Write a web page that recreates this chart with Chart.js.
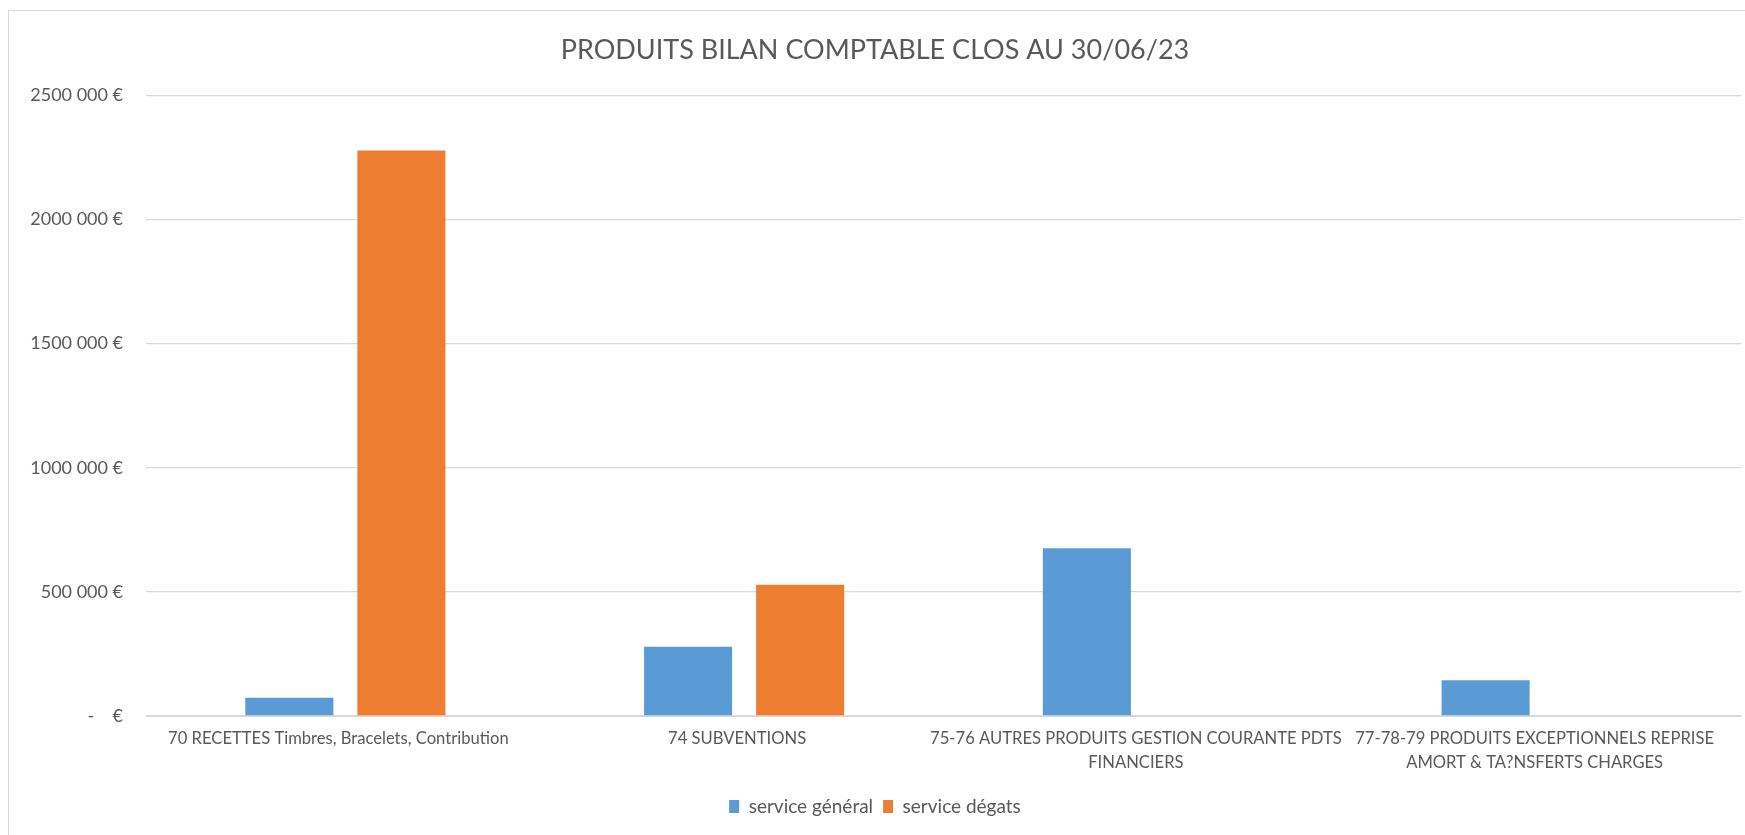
<!DOCTYPE html>
<html lang="fr">
<head>
<meta charset="utf-8">
<title>Produits bilan comptable</title>
<script src="https://cdn.jsdelivr.net/npm/chart.js@4.4.1/dist/chart.umd.min.js"></script>
<style>
  html, body { margin: 0; padding: 0; background: #fff; width: 1745px; height: 835px; overflow: hidden; }
  #box { position: absolute; left: 8px; top: 10px; width: 1758px; height: 840px; border: 1px solid #d9d9d9; }
</style>
</head>
<body>
<div id="box"><canvas id="c"></canvas></div>
<script>
/* Produits bilan comptable clos au 30/06/23 — barres groupées façon Excel */
const INK = '#595959', GRID = '#d9d9d9';
const BLUE = '#5b9bd5', ORANGE = '#ed7d31';
const FONT = 'Lato, "Open Sans", sans-serif';

const TITLE = 'PRODUITS BILAN COMPTABLE CLOS AU 30/06/23';
const CATEGORIES = [
  '70 RECETTES Timbres, Bracelets, Contribution',
  '74 SUBVENTIONS',
  ['75-76 AUTRES PRODUITS GESTION COURANTE PDTS', 'FINANCIERS'],
  ['77-78-79 PRODUITS EXCEPTIONNELS REPRISE', 'AMORT & TA?NSFERTS CHARGES']
];
const SERIES_NAMES = ['service général', 'service dégats'];
const SERVICE_GENERAL = [74000, 279000, 676000, 144000];
const SERVICE_DEGATS = [2278000, 529000, null, null];
const Y_TICKS = [0, 500000, 1000000, 1500000, 2000000, 2500000];
const Y_TICK_LABELS = ['-    €', '500 000 €', '1000 000 €', '1500 000 €', '2000 000 €', '2500 000 €'];

Chart.defaults.font.family = FONT;
Chart.defaults.color = INK;

new Chart('c', {
  type: 'bar',
  data: {
    labels: CATEGORIES,
    datasets: [
      { label: SERIES_NAMES[0], data: SERVICE_GENERAL, backgroundColor: BLUE },
      { label: SERIES_NAMES[1], data: SERVICE_DEGATS, backgroundColor: ORANGE }
    ]
  },
  options: {
    responsive: true, maintainAspectRatio: false, animation: false,
    datasets: { bar: { categoryPercentage: 0.562, barPercentage: 0.786 } },
    layout: { padding: { left: 0, right: 26, top: 0, bottom: 25 } },
    plugins: {
      title: {
        display: true, text: TITLE, color: INK,
        font: { size: 27, weight: 'normal', lineHeight: 1.2 },
        padding: { top: 23, bottom: 29 }
      },
      legend: {
        position: 'bottom',
        labels: { color: INK, font: { size: 19 }, boxWidth: 10, boxHeight: 13, padding: 10 }
      },
      tooltip: { enabled: false }
    },
    scales: {
      x: {
        grid: { display: false, drawTicks: false },
        border: { color: GRID, width: 1 },
        ticks: {
          color: INK, font: { size: 16.6, lineHeight: 1.48 },
          maxRotation: 0, autoSkip: false, padding: 10, labelOffset: -7
        },
        afterFit(s) { s.height = 71; }
      },
      y: {
        min: 0, max: 2500000,
        afterBuildTicks(s) { s.ticks = Y_TICKS.map(v => ({ value: v })); },
        grid: { color: GRID, lineWidth: 1.3, drawTicks: false },
        border: { display: false },
        ticks: {
          color: INK, font: { size: 18 }, padding: 23,
          callback: (v) => Y_TICK_LABELS[Y_TICKS.indexOf(v)]
        },
        afterFit(s) { s.width = 137; }
      }
    }
  }
});
</script>
</body>
</html>
